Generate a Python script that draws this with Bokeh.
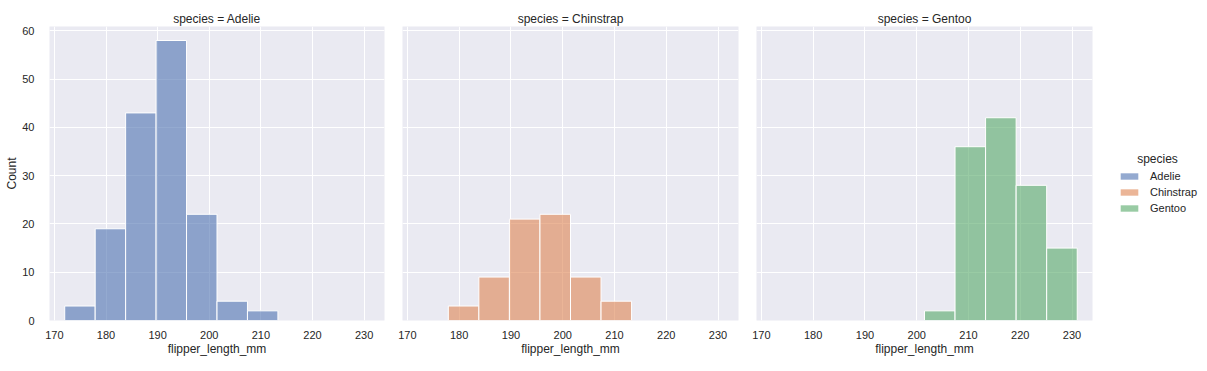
from bokeh.plotting import figure
from bokeh.layouts import row
from bokeh.models import (Range1d, SingleIntervalTicker, Grid, Legend, LegendItem,
                          ColumnDataSource, Title)
from bokeh.core.properties import value
from bokeh.embed import file_html
from bokeh.resources import INLINE

# ---- data ----
species = ["Adelie", "Chinstrap", "Gentoo"]
bin_edges = [172.0, 177.9, 183.8, 189.7, 195.6, 201.5, 207.4, 213.3, 219.2, 225.1, 231.0]
adelie_counts = [3, 19, 43, 58, 22, 4, 2, 0, 0, 0]
chinstrap_counts = [0, 3, 9, 21, 22, 9, 4, 0, 0, 0]
gentoo_counts = [0, 0, 0, 0, 0, 2, 36, 42, 28, 15]
x_ticks = [170, 180, 190, 200, 210, 220, 230]
y_ticks = [0, 10, 20, 30, 40, 50, 60]
colors = ["#4C72B0", "#DD8452", "#55A868"]
counts_all = [adelie_counts, chinstrap_counts, gentoo_counts]

FONT = "Liberation Sans"
TXT = "#262626"
BG = "#EAEAF2"
ALPHA = 0.6

xmin, xmax = bin_edges[0], bin_edges[-1]
xpad = (xmax - xmin) * 0.05
ymax = max(max(c) for c in counts_all) * 1.05

x_range = Range1d(xmin - xpad, xmax + xpad)
y_range = Range1d(0, ymax)

H = 365
plot_h = 294
top_b = 26
bot_b = H - plot_h - top_b

figs = []
for i, (sp, counts, col) in enumerate(zip(species, counts_all, colors)):
    first = i == 0
    left_b = 49 if first else 9
    right_b = 9
    plot_w = 335 if first else 336
    p = figure(width=left_b + plot_w + right_b, height=H,
               x_range=x_range, y_range=y_range,
               output_backend="svg", toolbar_location=None,
               y_axis_location="left" if first else None,
               min_border_left=left_b, min_border_right=right_b,
               min_border_top=top_b, min_border_bottom=bot_b,
               background_fill_color=BG, border_fill_color="white",
               outline_line_color=None)
    t = Title(text=f"species = {sp}", align="center", text_font=FONT,
              text_font_size="12px", text_font_style="normal", text_color=TXT,
              standoff=1, offset=0)
    p.add_layout(t, "above")

    lefts = [bin_edges[k] for k in range(len(counts)) if counts[k] > 0]
    rights = [bin_edges[k + 1] for k in range(len(counts)) if counts[k] > 0]
    tops = [c for c in counts if c > 0]
    src = ColumnDataSource(dict(left=lefts, right=rights, top=tops, bottom=[0] * len(tops)))
    p.quad(left="left", right="right", top="top", bottom="bottom", source=src,
           fill_color=col, fill_alpha=ALPHA, line_color="white", line_width=1)

    for g in list(p.grid):
        p.center.remove(g)
    p.add_layout(Grid(dimension=0, ticker=SingleIntervalTicker(interval=10),
                      grid_line_color="white", grid_line_width=1), "center")
    p.add_layout(Grid(dimension=1, ticker=SingleIntervalTicker(interval=10),
                      grid_line_color="white", grid_line_width=1), "center")

    ax = p.xaxis[0]
    ax.ticker = x_ticks
    ax.axis_label = "flipper_length_mm"
    for a in p.axis:
        a.axis_line_color = None
        a.major_tick_line_color = None
        a.minor_tick_line_color = None
        a.major_label_text_font = FONT
        a.major_label_text_font_size = "11px"
        a.major_label_text_color = TXT
        a.axis_label_text_font = FONT
        a.axis_label_text_font_size = "12px"
        a.axis_label_text_font_style = "normal"
        a.axis_label_text_color = TXT
    ax.major_label_standoff = 4
    ax.axis_label_standoff = 0
    if first:
        ay = p.yaxis[0]
        ay.ticker = y_ticks
        ay.axis_label = "Count"
        ay.major_label_standoff = 9
        ay.axis_label_standoff = 0
    figs.append(p)

# ---- legend panel ----
LW = 98
lg = figure(width=LW, height=H, x_range=Range1d(0, LW), y_range=Range1d(0, H),
            output_backend="svg", toolbar_location=None,
            x_axis_location=None, y_axis_location=None,
            min_border=0, background_fill_color="white", border_fill_color="white",
            outline_line_color=None)
lg.grid.visible = False
nan = float("nan")
items = []
for sp, col in zip(species, colors):
    r = lg.quad(left=[nan], right=[nan], top=[nan], bottom=[nan], fill_color=col,
                fill_alpha=ALPHA, line_color=None)
    items.append(LegendItem(label=sp, renderers=[r]))
leg = Legend(items=items, location=(17, 104), padding=0, margin=0, spacing=0,
             glyph_width=22, glyph_height=8, label_height=16, label_standoff=10,
             label_text_font=FONT, label_text_font_size="11px", label_text_color=TXT,
             border_line_color=None, background_fill_alpha=0)
lg.add_layout(leg, "center")
lg.text(x=[56], y=[200], text=["species"], text_font=value(FONT),
        text_font_size="12px", text_color=TXT, text_align="center", text_baseline="middle")

layout = row(*figs, lg)
open("out.html", "w").write(file_html(layout, INLINE))
